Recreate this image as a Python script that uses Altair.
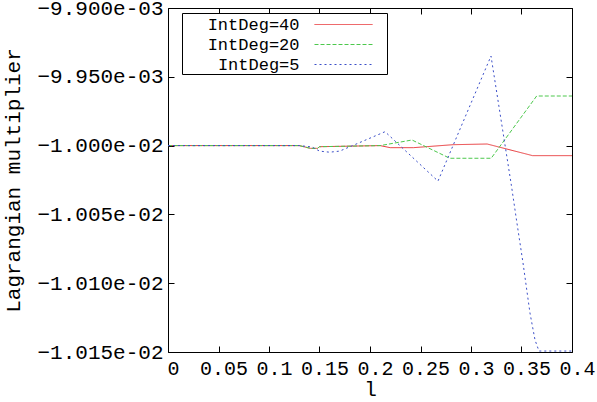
import altair as alt
import pandas as pd

# ---- data ----
series_names = ["IntDeg=40", "IntDeg=20", "IntDeg=5"]
series_colors = ["#e8383a", "#4cc84c", "#3a4ec8"]
series_dashes = [[1, 0], [4, 2], [2, 3]]

l_40 = [0.0, 0.13, 0.141, 0.148, 0.15, 0.21, 0.22, 0.243, 0.282, 0.316, 0.361, 0.4]
v_40 = [-1.0e-2, -1.0e-2, -1.0002e-2, -1.0002e-2, -1.00008e-2, -1.0e-2,
        -1.00015e-2, -1.00015e-2, -9.99935e-3, -9.99884e-3, -1.00073e-2, -1.00073e-2]

l_20 = [0.0, 0.13, 0.141, 0.148, 0.15, 0.21, 0.2416, 0.279, 0.32, 0.365, 0.4]
v_20 = [-1.0e-2, -1.0e-2, -1.0002e-2, -1.0002e-2, -1.00008e-2, -1.0e-2,
        -9.99593e-3, -1.00092e-2, -1.00092e-2, -9.96396e-3, -9.96396e-3]

l_5 = [0.0, 0.13, 0.1426, 0.15, 0.16, 0.17, 0.2149, 0.2673, 0.3198, 0.34,
       0.3455, 0.3515, 0.3584, 0.3634, 0.3673, 0.4]
v_5 = [-1.0e-2, -1.0e-2, -1.0001e-2, -1.0004e-2, -1.00048e-2, -1.0004e-2,
       -9.9899e-3, -1.00258e-2, -9.93489e-3, -1.0029e-2,
       -1.00563e-2, -1.00853e-2, -1.01217e-2, -1.01413e-2, -1.01493e-2, -1.01493e-2]

x_ticks = [0, 0.05, 0.1, 0.15, 0.2, 0.25, 0.3, 0.35, 0.4]
y_ticks = [-0.0099, -0.00995, -0.01, -0.01005, -0.0101, -0.01015]

rows = []
for name, ls, vs in [(series_names[0], l_40, v_40),
                     (series_names[1], l_20, v_20),
                     (series_names[2], l_5, v_5)]:
    for l, v in zip(ls, vs):
        rows.append({"l": l, "value": v, "series": name})
df = pd.DataFrame(rows)

FONT = "Liberation Mono"

xs = alt.Scale(domain=[0, 0.4], nice=False)
ys = alt.Scale(domain=[-0.01015, -0.0099], nice=False, zero=False)

# legend sample: a 58px line drawn to the right of the (right-aligned) text,
# gnuplot style; the lone move-to points only widen the key box
legend_symbol = "M-1.05,0M12.1,0H17.9M19,0"

legend = alt.Legend(
    title=None, orient="none", legendX=14, legendY=5,
    symbolType=legend_symbol, symbolSize=400, symbolStrokeWidth=1,
    symbolFillColor="transparent",
    rowPadding=1,
    labelFont=FONT, labelFontSize=17, labelColor="black",
    labelAlign="right", labelOffset=95.5, symbolOffset=0,
    padding=1, strokeColor="black", fillColor="white",
)

lines = alt.Chart(df).mark_line(strokeWidth=1, clip=True).encode(
    x=alt.X("l:Q", scale=xs, title="l",
            axis=alt.Axis(orient="bottom", values=x_ticks, format="~g",
                          offset=-6, tickSize=6, domain=False, grid=False,
                          labelOverlap=False, labelFlush=False, labelBound=False,
                          labelFontSize=20,
                          labelPadding=6, labelOffset=5, titlePadding=0)),
    y=alt.Y("value:Q", scale=ys, title="Lagrangian multiplier",
            axis=alt.Axis(orient="left", values=y_ticks,
                          labelExpr="replace(format(datum.value, '.3e'), 'e-', 'e-0')",
                          offset=-6, tickSize=6, domain=False, grid=False,
                          labelOverlap=False, labelFlush=False, labelBound=False,
                          labelPadding=5, titlePadding=13)),
    color=alt.Color("series:N", scale=alt.Scale(domain=series_names, range=series_colors),
                    legend=legend),
    strokeDash=alt.StrokeDash("series:N", scale=alt.Scale(domain=series_names, range=series_dashes),
                              legend=legend),
)

mirror = alt.Chart(df).mark_line(opacity=0).encode(
    x=alt.X("l:Q", scale=xs, title=None,
            axis=alt.Axis(orient="top", values=x_ticks, labels=False,
                          offset=-6, tickSize=6, domain=False, grid=False)),
    y=alt.Y("value:Q", scale=ys, title=None,
            axis=alt.Axis(orient="right", values=y_ticks, labels=False,
                          offset=-6, tickSize=6, domain=False, grid=False)),
    detail="series:N",
)

chart = alt.layer(lines, mirror).resolve_axis(
    x="independent", y="independent"
).properties(
    width=404, height=344, autosize="none",
    padding={"left": 168, "top": 8, "right": 25, "bottom": 50},
).configure_view(
    stroke="black", strokeWidth=1
).configure_axis(
    labelFont=FONT, titleFont=FONT, labelFontSize=21, titleFontSize=21,
    labelFontWeight="normal", titleFontWeight="normal",
    labelColor="black", titleColor="black", tickColor="black",
)

chart.save("out.html", embed_options={"renderer": "svg", "actions": False})
